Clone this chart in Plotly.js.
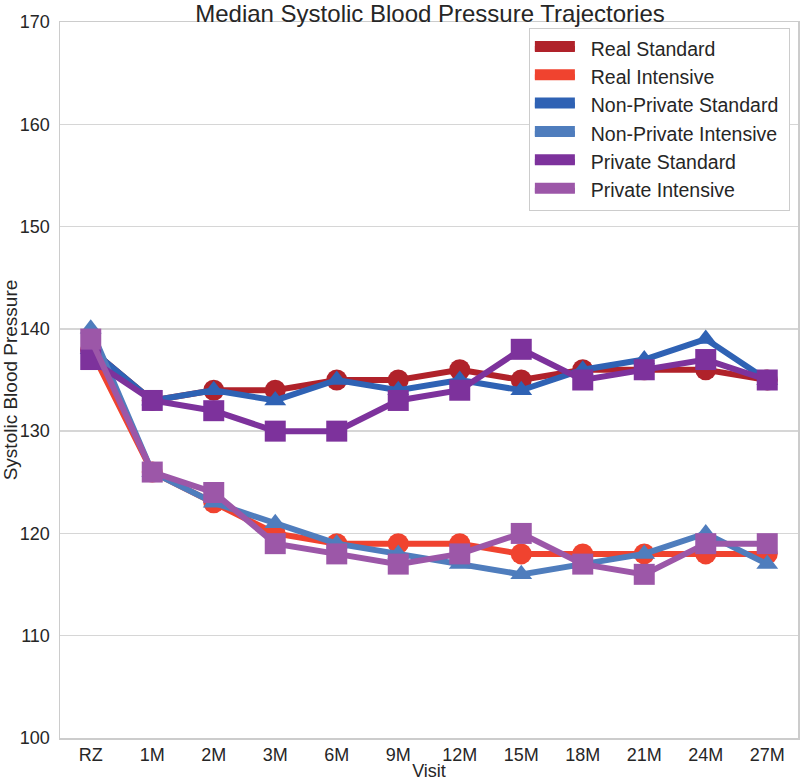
<!DOCTYPE html>
<html>
<head>
<meta charset="utf-8">
<script src="https://cdn.plot.ly/plotly-3.0.1.min.js"></script>
<style>html,body{margin:0;padding:0;background:#fff;}#chart{width:800px;height:781px;}</style>
</head>
<body>
<div id="chart"></div>
<script>
const visits = ["RZ","1M","2M","3M","6M","9M","12M","15M","18M","21M","24M","27M"];
const realStandard      = [138,133,134,134,135,135,136,135,136,136,136,135];
const realIntensive     = [138,126,123,120,119,119,119,118,118,118,118,118];
const nonPrivStandard   = [138,133,134,133,135,134,135,134,136,137,139,135];
const nonPrivIntensive  = [140,126,123,121,119,118,117,116,117,118,120,117];
const privStandard      = [137,133,132,130,130,133,134,138,135,136,137,135];
const privIntensive     = [139,126,124,119,118,117,118,120,117,116,119,119];

const seriesNames  = ["Real Standard","Real Intensive","Non-Private Standard","Non-Private Intensive","Private Standard","Private Intensive"];
const seriesValues = [realStandard, realIntensive, nonPrivStandard, nonPrivIntensive, privStandard, privIntensive];
const seriesColors = ["#b0222a","#f0432f","#2f62b4","#4f7dbd","#7d329c","#9c57a8"];
const seriesSymbols = ["circle","circle","triangle-up","triangle-up","square","square"];
const symbolSizes = {"circle":21,"triangle-up":19,"square":21};

const FONT = "Liberation Sans, Arial, sans-serif";
const TXT = "#262626";

const traces = [];
seriesValues.forEach((vals, i) => {
  traces.push({
    type: "scatter", mode: "lines+markers",
    x: visits, y: vals, name: seriesNames[i], showlegend: false,
    line: {color: seriesColors[i], width: 6},
    marker: {symbol: seriesSymbols[i], size: symbolSizes[seriesSymbols[i]], color: seriesColors[i], line: {width: 0}},
    hoverinfo: "x+y+name"
  });
});
// legend entries drawn as colored patches
seriesNames.forEach((nm, i) => {
  traces.push({
    type: "scatter", mode: "lines", x: [null], y: [null], name: "\u00a0\u00a0" + nm + "\u00a0",
    fill: "toself", fillcolor: seriesColors[i],
    line: {color: seriesColors[i], width: 10},
    showlegend: true, hoverinfo: "skip"
  });
});

const layout = {
  width: 800, height: 781,
  margin: {l: 60, r: 2, t: 22, b: 43},
  paper_bgcolor: "#ffffff", plot_bgcolor: "#ffffff",
  font: {family: FONT, color: TXT, size: 18},
  title: {text: "Median Systolic Blood Pressure Trajectories", font: {family: FONT, size: 24, color: TXT},
          x: 0.5375, xanchor: "center", y: 0.982, yanchor: "middle", yref: "container"},
  xaxis: {
    type: "category", categoryorder: "array", categoryarray: visits,
    range: [-0.5, 11.5], showgrid: false, zeroline: false,
    showline: true, mirror: true, linecolor: "#cccccc", linewidth: 1.5,
    ticks: "",
    tickfont: {family: FONT, size: 18, color: TXT},
    title: {text: "Visit", font: {family: FONT, size: 18, color: TXT}, standoff: 6}
  },
  yaxis: {
    range: [100, 170], dtick: 10, tick0: 100,
    showgrid: true, gridcolor: "#d6d6d6", gridwidth: 1.5, zeroline: false,
    showline: true, mirror: true, linecolor: "#cccccc", linewidth: 1.5,
    ticks: "outside", ticklen: 5, tickcolor: "rgba(0,0,0,0)",
    tickfont: {family: FONT, size: 18, color: TXT},
    title: {text: "Systolic Blood Pressure", font: {family: FONT, size: 19, color: TXT}, standoff: 4}
  },
  legend: {
    x: 0.989, xanchor: "right", y: 0.992, yanchor: "top",
    bgcolor: "#ffffff", bordercolor: "#cccccc", borderwidth: 1,
    font: {family: FONT, size: 19.5, color: TXT},
    itemwidth: 40, tracegroupgap: 0
  },
  showlegend: true
};

Plotly.newPlot("chart", traces, layout, {displayModeBar: false, staticPlot: true});
</script>
</body>
</html>
